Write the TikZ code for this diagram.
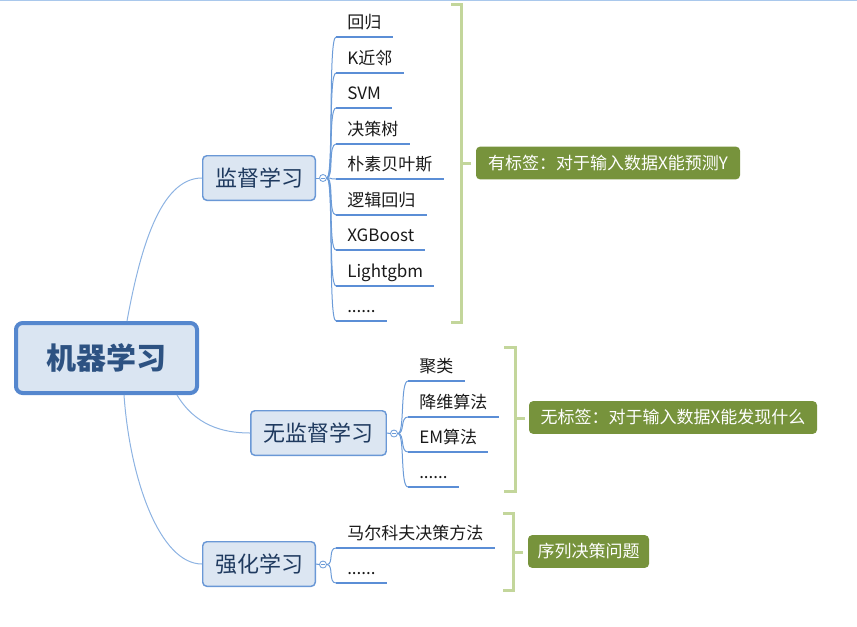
\documentclass[tikz,border=0pt]{standalone}
\usepackage{fontspec}
\setmainfont{Noto Sans CJK SC}
\usetikzlibrary{calc}
\definecolor{rootfill}{HTML}{DAE5F2}
\definecolor{rootline}{HTML}{5587CE}
\definecolor{roottext}{HTML}{2D5282}
\definecolor{subfill}{HTML}{DCE6F2}
\definecolor{subline}{HTML}{6A98D6}
\definecolor{subtext}{HTML}{1F3A5F}
\definecolor{mainconn}{HTML}{8DB3E2}
\definecolor{leafconn}{HTML}{6B9BD8}
\definecolor{uline}{HTML}{5B8ED6}
\definecolor{leaftext}{HTML}{1A1A1A}
\definecolor{brk}{HTML}{C3D69B}
\definecolor{labfill}{HTML}{77933C}
\definecolor{topline}{HTML}{A9C8EC}
\begin{document}
\begin{tikzpicture}[x=0.75pt,y=-0.75pt,
  rootbox/.style={draw=rootline, line width=3pt, fill=rootfill, rounded corners=5pt,
    minimum width=135.75pt, minimum height=52.5pt, text=roottext,
    font=\fontsize{22.5pt}{26pt}\selectfont\bfseries},
  subbox/.style={draw=subline, line width=1.1pt, fill=subfill, rounded corners=3pt,
    minimum height=33.4pt, text=subtext, font=\fontsize{16.5pt}{19pt}\selectfont},
  leaf/.style={anchor=south west, inner xsep=8.25pt, inner ysep=3.5pt,
    text height=9.5pt, text depth=2.5pt, text=leaftext,
    font=\fontsize{12.75pt}{14pt}\selectfont,
    append after command={(\tikzlastnode.south west) edge[draw=uline, line width=1.5pt] (\tikzlastnode.south east)}},
  labbox/.style={fill=labfill, rounded corners=3pt, text=white, minimum height=24.5pt,
    font=\fontsize{12.75pt}{14pt}\selectfont},
  smallc/.style={circle, draw=leafconn, fill=white, inner sep=0pt, minimum size=5.25pt, line width=0.6pt,
    path picture={\draw[leafconn,line width=0.5pt] ($(path picture bounding box.west)+(1.2pt,0)$) -- ($(path picture bounding box.east)+(-1.2pt,0)$);}},
  mconn/.style={draw=mainconn, line width=0.75pt},
  lconn/.style={draw=leafconn, line width=0.75pt},
  bracket/.style={draw=brk, line width=2.25pt}
]
\useasboundingbox (0,0) rectangle (857,626);
\draw[topline, line width=1pt] (0,0.6) -- (857,0.6);

% root and main branches
\node[rootbox] (root) at (106.5,358) {机器学习};
\node[subbox, minimum width=84.4pt] (sup) at (259,178) {监督学习};
\node[subbox, minimum width=101.6pt] (uns) at (318.5,433) {无监督学习};
\node[subbox, minimum width=84.4pt] (rl) at (259,564) {强化学习};

\draw[mconn] ($(root.north)+(20.5,0)$) .. controls (140,250) and (160,178) .. (sup.west);
\draw[mconn] ($(root.south)+(70.5,0)$) .. controls (195,425) and (222,433) .. (uns.west);
\draw[mconn] ($(root.south)+(17.5,0)$) .. controls (130,480) and (160,564) .. (rl.west);

% collapse markers
\node[smallc] (c1) at (323,178) {};
\node[smallc] (c2) at (394,433.5) {};
\node[smallc] (c3) at (323,564.5) {};
\draw[lconn] (sup.east) -- (c1.west);
\draw[lconn] (uns.east) -- (c2.west);
\draw[lconn] (rl.east) -- (c3.west);

% supervised leaves
\node[leaf] (s1) at (336,37) {回归};
\node[leaf] (s2) at (336,73) {K近邻};
\node[leaf] (s3) at (336,108) {SVM};
\node[leaf] (s4) at (336,144) {决策树};
\node[leaf] (s5) at (336,179) {朴素贝叶斯};
\node[leaf] (s6) at (336,215) {逻辑回归};
\node[leaf] (s7) at (336,250) {XGBoost};
\node[leaf] (s8) at (336,286) {Lightgbm};
\node[leaf] (s9) at (336,321) {......};
\foreach \n in {s1,s2,s3,s4,s5,s6,s7,s8,s9}
  \draw[lconn] (c1.east) .. controls +(7,0) and +(-8,0) .. (\n.south west);

% unsupervised leaves
\node[leaf] (u1) at (408,381) {聚类};
\node[leaf] (u2) at (408,417) {降维算法};
\node[leaf] (u3) at (408,452) {EM算法};
\node[leaf] (u4) at (408,487) {......};
\foreach \n in {u1,u2,u3,u4}
  \draw[lconn] (c2.east) .. controls +(7,0) and +(-8,0) .. (\n.south west);

% reinforcement leaves
\node[leaf] (r1) at (336,548) {马尔科夫决策方法};
\node[leaf] (r2) at (336,583) {......};
\foreach \n in {r1,r2}
  \draw[lconn] (c3.east) .. controls +(7,0) and +(-8,0) .. (\n.south west);

% brackets
\draw[bracket] (451,4) -- (461,4) -- (461,322) -- (451,322);
\draw[bracket] (461,163) -- (471,163);
\draw[bracket] (504,347) -- (515,347) -- (515,491) -- (504,491);
\draw[bracket] (515,418) -- (525,418);
\draw[bracket] (503,513) -- (513,513) -- (513,590) -- (503,590);
\draw[bracket] (513,552) -- (523,552);

% labels
\node[labbox, minimum width=198pt] (lab1) at (608,163) {有标签：对于输入数据X能预测Y};
\node[labbox, minimum width=216pt] (lab2) at (673,417.5) {无标签：对于输入数据X能发现什么};
\node[labbox, minimum width=90.75pt] (lab3) at (588.5,551.5) {序列决策问题};
\end{tikzpicture}
\end{document}
